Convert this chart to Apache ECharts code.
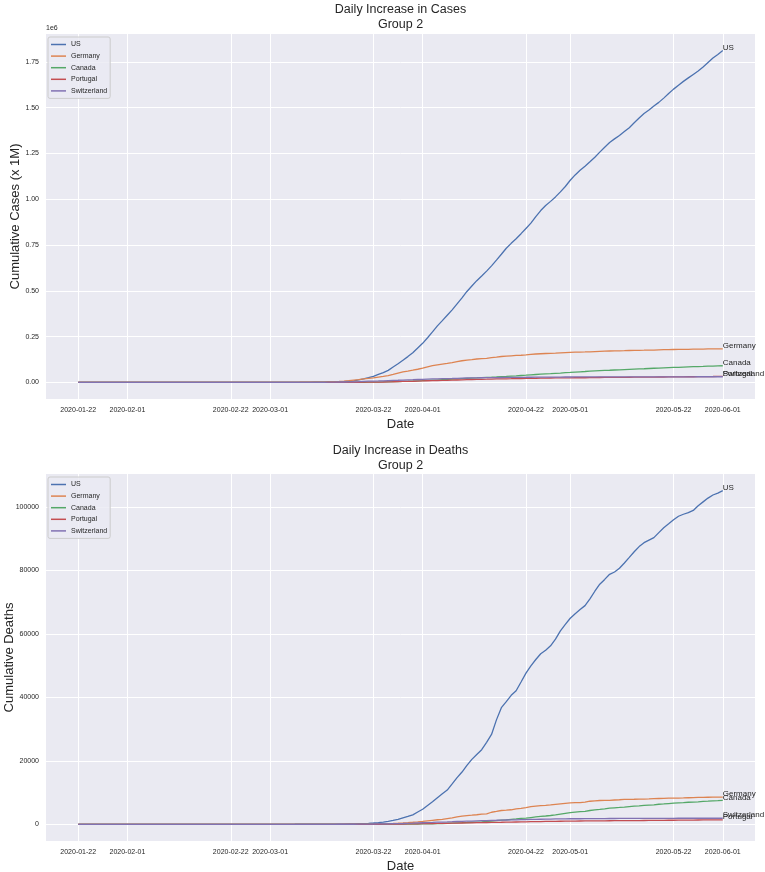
<!DOCTYPE html>
<html>
<head>
<meta charset="utf-8">
<script src="https://cdn.jsdelivr.net/npm/echarts@6/dist/echarts.min.js"></script>
<style>
html,body{margin:0;padding:0;background:#fff;}
#chart{width:765px;height:872px;}
</style>
</head>
<body>
<div id="chart"></div>
<script>
// ---- DATA (cumulative, daily from 2020-01-22 to 2020-06-01) ----
const startDate = '2020-01-22';
const countries = ['US', 'Germany', 'Canada', 'Portugal', 'Switzerland'];
const xTickLabels = ['2020-01-22','2020-02-01','2020-02-22','2020-03-01','2020-03-22','2020-04-01','2020-04-22','2020-05-01','2020-05-22','2020-06-01'];
const casesTickValues = [0, 250000, 500000, 750000, 1000000, 1250000, 1500000, 1750000];
const deathsTickValues = [0, 20000, 40000, 60000, 80000, 100000];

const usCases = [
1,1,2,2,5,5,5,6,6,8,
8,8,11,11,11,12,12,12,12,12,13,13,14,14,14,14,14,14,14,14,16,16,16,16,53,53,59,60,68,
74,98,118,149,217,262,402,518,583,959,1281,1663,2179,2727,3499,4632,6421,7786,13680,19101,25493,33276,43847,53740,65778,83836,101657,121478,140886,161807,188172,
213372,243762,275586,308853,337072,366667,396223,429052,461437,496535,526396,555313,580619,607670,636350,667592,699706,732197,759086,784326,811865,840351,869170,905358,938154,965785,988197,1012582,1039909,1069424,
1103461,1132539,1158040,1180375,1204351,1229331,1257023,1283929,1309550,1329260,1347881,1369376,1390406,1417774,1442824,1467820,1486757,1508308,1528568,1551853,1577147,1600937,1622612,1643246,1662302,1681212,1699933,1721753,1746019,1770384,1790191,
1811277];
const germanyCases = [
0,0,0,0,0,0,1,4,4,5,
8,10,12,12,12,12,13,13,14,14,16,16,16,16,16,16,16,16,16,16,16,16,16,16,17,27,46,48,79,
130,159,196,262,482,670,799,1040,1176,1457,1908,2078,3675,4585,5795,7272,9257,12327,15320,19848,22213,24873,29056,32986,37323,43938,50871,57695,62095,66885,71808,
77872,84794,91159,96092,100123,103374,107663,113296,118181,122171,124908,127854,130072,131359,134753,137698,141397,143342,145184,147065,148291,150648,153129,154999,156513,157770,158758,159912,161539,163009,
164077,164967,165664,166152,167007,168162,169430,170588,171324,171879,172576,173171,174098,174478,175233,175752,176369,176551,177778,178473,179021,179710,179986,180328,180600,181200,181524,182196,182922,183189,183410,
183594];
const canadaCases = [
0,0,0,0,1,1,2,2,2,4,
4,4,4,4,5,5,7,7,7,7,7,7,7,7,7,7,7,8,8,8,9,9,9,10,11,11,13,14,20,
24,27,30,33,37,49,54,64,77,79,108,117,193,198,252,415,478,657,800,943,1277,1469,2088,2790,3251,4042,4682,5576,6280,7398,8527,
9560,11284,12437,12978,15756,16563,17872,19141,20654,22059,23316,24298,25680,27035,28209,29648,31927,32814,34355,35633,37658,39402,41648,43286,44919,46371,47864,49616,51150,52865,
54457,56343,57926,59474,61159,62458,63895,65276,66434,67702,68918,70091,71264,72419,73568,74613,75959,77206,78332,79411,80493,81575,82480,83621,84699,85711,86647,87519,88512,89418,90179,
90909];
const portugalCases = [
0,0,0,0,0,0,0,0,0,0,
0,0,0,0,0,0,0,0,0,0,0,0,0,0,0,0,0,0,0,0,0,0,0,0,0,0,0,0,0,
0,2,2,5,8,13,20,30,30,41,59,59,112,169,245,331,448,448,785,1020,1280,1600,2060,2362,2995,3544,4268,5170,5962,6408,7443,
8251,9034,9886,10524,11278,11730,12442,13141,13956,15472,15987,16585,16934,17448,18091,18841,19022,19685,20206,20863,21379,21982,22353,22797,23392,23864,24027,24322,24505,24692,
25045,25351,25390,25524,25702,26182,26715,27268,27406,27581,27679,27913,28132,28319,28583,28810,29036,29209,29432,29660,29912,30200,30471,30623,30788,31007,31292,31596,31946,32203,32500,
32700];
const switzerlandCases = [
0,0,0,0,0,0,0,0,0,0,
0,0,0,0,0,0,0,0,0,0,0,0,0,0,0,0,0,0,0,0,0,0,0,0,1,1,8,8,18,
27,42,56,90,114,214,268,337,374,491,652,652,1139,1359,2200,2200,2700,3028,4075,5294,6575,7245,7948,8795,9877,10897,11811,12928,14076,14829,15922,
16605,17768,18827,19606,20505,21100,21657,22253,23280,24051,24551,25107,25415,25688,25936,26336,26732,27078,27404,27740,27944,28063,28268,28496,28677,28894,29061,29164,29264,29407,
29586,29705,29817,29905,29981,30009,30060,30126,30207,30251,30305,30344,30380,30413,30463,30514,30572,30587,30597,30618,30658,30694,30707,30725,30736,30746,30761,30776,30796,30828,30845,
30862];

const usDeaths = [
0,0,0,0,0,0,0,0,0,0,
0,0,0,0,0,0,0,0,0,0,0,0,0,0,0,0,0,0,0,0,0,0,0,0,0,0,0,0,1,
1,6,7,11,12,14,17,21,22,28,36,40,47,54,63,85,108,118,200,244,307,427,552,706,942,1209,1581,2026,2467,2978,3873,
4757,5926,7087,8407,9619,10783,12722,14695,16478,18586,20463,22020,23529,25832,28325,32916,36773,38664,40661,42094,44845,47659,49954,51949,53755,54881,56259,58355,60967,62996,
64943,66369,67682,68922,71064,73455,75662,77180,78795,79526,80682,82356,84119,85898,87530,88754,89562,90347,91921,93439,94702,95979,97087,97720,98220,98916,100418,101617,102809,103781,104383,
105147];
const germanyDeaths = [
0,0,0,0,0,0,0,0,0,0,
0,0,0,0,0,0,0,0,0,0,0,0,0,0,0,0,0,0,0,0,0,0,0,0,0,0,0,0,0,
0,0,0,0,0,0,0,0,2,2,3,3,7,9,11,17,24,28,44,67,84,94,123,157,206,267,342,433,533,645,775,
920,1107,1275,1444,1584,1810,2016,2349,2607,2767,2871,3022,3194,3294,3804,4052,4352,4459,4586,4862,5033,5279,5575,5760,5877,5976,6126,6314,6467,6623,
6736,6812,6866,6993,7275,7392,7510,7549,7569,7661,7738,7861,7884,7897,7938,7962,8003,8081,8144,8203,8228,8261,8283,8309,8372,8428,8470,8504,8530,8540,8555,
8563];
const canadaDeaths = [
0,0,0,0,0,0,0,0,0,0,
0,0,0,0,0,0,0,0,0,0,0,0,0,0,0,0,0,0,0,0,0,0,0,0,0,0,0,0,0,
0,0,0,0,0,0,0,0,1,1,1,1,1,1,1,4,5,8,9,12,19,21,25,26,30,39,54,61,64,80,101,
109,139,179,218,259,339,375,454,503,569,654,720,779,899,1010,1195,1308,1399,1563,1690,1865,1950,2141,2323,2489,2619,2774,2970,3207,3451,
3684,3830,3972,4109,4353,4524,4696,4875,5092,5207,5312,5436,5575,5702,5820,5947,6058,6154,6325,6430,6545,6654,6765,6854,6956,7006,7105,7208,7295,7394,7480,
7569];
const portugalDeaths = [
0,0,0,0,0,0,0,0,0,0,
0,0,0,0,0,0,0,0,0,0,0,0,0,0,0,0,0,0,0,0,0,0,0,0,0,0,0,0,0,
0,0,0,0,0,0,0,0,0,0,0,0,0,0,0,1,1,2,3,6,12,14,23,33,43,60,76,100,119,140,160,
187,209,246,266,295,311,345,380,409,435,470,504,535,567,599,629,657,687,714,735,762,785,820,854,880,903,928,948,973,989,
1007,1023,1043,1063,1074,1089,1105,1114,1126,1135,1144,1163,1175,1184,1190,1203,1218,1231,1247,1263,1277,1289,1302,1316,1330,1342,1356,1369,1383,1396,1410,
1424];
const switzerlandDeaths = [
0,0,0,0,0,0,0,0,0,0,
0,0,0,0,0,0,0,0,0,0,0,0,0,0,0,0,0,0,0,0,0,0,0,0,0,0,0,0,0,
0,0,0,0,1,1,1,2,2,3,4,4,11,13,14,14,27,28,41,54,75,98,120,122,153,191,231,264,300,359,433,
488,536,591,666,715,765,821,895,948,1002,1036,1106,1138,1174,1239,1281,1327,1368,1393,1429,1478,1509,1549,1589,1599,1610,1665,1699,1716,1737,
1754,1762,1762,1784,1795,1805,1810,1823,1830,1833,1845,1867,1870,1872,1878,1879,1881,1886,1891,1892,1898,1903,1905,1906,1913,1915,1917,1919,1919,1920,1920,
1920];

// ---- STYLE ----
const colors = ['#4C72B0', '#DD8452', '#55A868', '#C44E52', '#8172B3'];
const FONT = '"Liberation Sans", Arial, sans-serif';
const TXT = '#262626';

const DAY = 86400000;
const t0 = Date.parse(startDate + 'T00:00:00Z');
const times = usCases.map((_, i) => t0 + i * DAY);
const tLast = times[times.length - 1];
const xMargin = 0.05 * (tLast - t0);

const casesSeries = [usCases, germanyCases, canadaCases, portugalCases, switzerlandCases];
const deathsSeries = [usDeaths, germanyDeaths, canadaDeaths, portugalDeaths, switzerlandDeaths];
const casesMax = Math.max(...casesSeries.map(a => Math.max(...a)));
const deathsMax = Math.max(...deathsSeries.map(a => Math.max(...a)));

function fmtDate(v) {
  const d = new Date(v);
  const p = n => (n < 10 ? '0' : '') + n;
  return d.getUTCFullYear() + '-' + p(d.getUTCMonth() + 1) + '-' + p(d.getUTCDate());
}
const xTickValues = xTickLabels.map(s => Date.parse(s + 'T00:00:00Z'));

function xAxis(gridIndex) {
  return {
    type: 'value', gridIndex,
    min: t0 - xMargin, max: tLast + xMargin,
    name: 'Date', nameLocation: 'middle', nameGap: 19,
    nameTextStyle: { fontFamily: FONT, fontSize: 13, color: TXT },
    axisLine: { show: false }, axisTick: { show: false, customValues: xTickValues },
    axisLabel: { customValues: xTickValues, formatter: v => fmtDate(v), fontFamily: FONT, fontSize: 7, color: TXT, margin: 8, hideOverlap: false },
    splitLine: { show: true, lineStyle: { color: '#ffffff', width: 1 } }
  };
}
function yAxis(gridIndex, maxV, ticks, name, fmt, gap) {
  return {
    type: 'value', gridIndex,
    min: -0.05 * maxV, max: 1.05 * maxV,
    name, nameLocation: 'middle', nameGap: gap, nameRotate: 90, nameMoveOverlap: false,
    nameTextStyle: { fontFamily: FONT, fontSize: 13, color: TXT },
    axisLine: { show: false }, axisTick: { show: false, customValues: ticks },
    axisLabel: { customValues: ticks, formatter: fmt, fontFamily: FONT, fontSize: 7, color: TXT, margin: 7, hideOverlap: false },
    splitLine: { show: true, lineStyle: { color: '#ffffff', width: 1 } }
  };
}
function makeSeries(arrs, idx) {
  return arrs.map((arr, k) => ({
    type: 'line', name: countries[k], xAxisIndex: idx, yAxisIndex: idx,
    data: arr.map((v, i) => [times[i], v]),
    showSymbol: false, symbol: 'none',
    lineStyle: { width: 1.3, color: colors[k] }, itemStyle: { color: colors[k] },
    emphasis: { disabled: true },
    endLabel: { show: true, formatter: '{a}', fontFamily: FONT, fontSize: 8, color: TXT, distance: 0, offset: [0, -3] },
    z: 2 + k
  }));
}
function legend(top) {
  return {
    data: countries, orient: 'vertical', left: 48, top,
    icon: 'rect', itemWidth: 15, itemHeight: 1.5, itemGap: 2.6,
    backgroundColor: 'rgba(234,234,242,0.8)', borderColor: '#cccccc', borderWidth: 1, borderRadius: 2,
    padding: [3, 3, 3, 3],
    textStyle: { fontFamily: FONT, fontSize: 7, color: TXT, lineHeight: 9 },
    selectedMode: false
  };
}

const chart = echarts.init(document.getElementById('chart'), null, { renderer: 'canvas' });
chart.setOption({
  animation: false,
  backgroundColor: '#ffffff',
  title: [
    { text: 'Daily Increase in Cases\nGroup 2', left: 400.5, top: 1.5, padding: 0, textAlign: 'center',
      textStyle: { fontFamily: FONT, fontSize: 12.5, fontWeight: 'normal', color: TXT, lineHeight: 15.5 } },
    { text: 'Daily Increase in Deaths\nGroup 2', left: 400.5, top: 442.5, padding: 0, textAlign: 'center',
      textStyle: { fontFamily: FONT, fontSize: 12.5, fontWeight: 'normal', color: TXT, lineHeight: 15.5 } }
  ],
  graphic: [
    { type: 'text', left: 46, top: 25, style: { text: '1e6', font: '7px ' + FONT, fill: TXT } }
  ],
  legend: [legend(37), legend(477)],
  grid: [
    { left: 46, right: 10, top: 34, height: 365, show: true, backgroundColor: '#EAEAF2', borderWidth: 0, outerBoundsMode: 'none' },
    { left: 46, right: 10, top: 474, height: 367, show: true, backgroundColor: '#EAEAF2', borderWidth: 0, outerBoundsMode: 'none' }
  ],
  xAxis: [xAxis(0), xAxis(1)],
  yAxis: [
    yAxis(0, casesMax, casesTickValues, 'Cumulative Cases (x 1M)', v => (v / 1e6).toFixed(2), 24),
    yAxis(1, deathsMax, deathsTickValues, 'Cumulative Deaths', v => String(v), 30)
  ],
  series: makeSeries(casesSeries, 0).concat(makeSeries(deathsSeries, 1))
});
</script>
</body>
</html>
